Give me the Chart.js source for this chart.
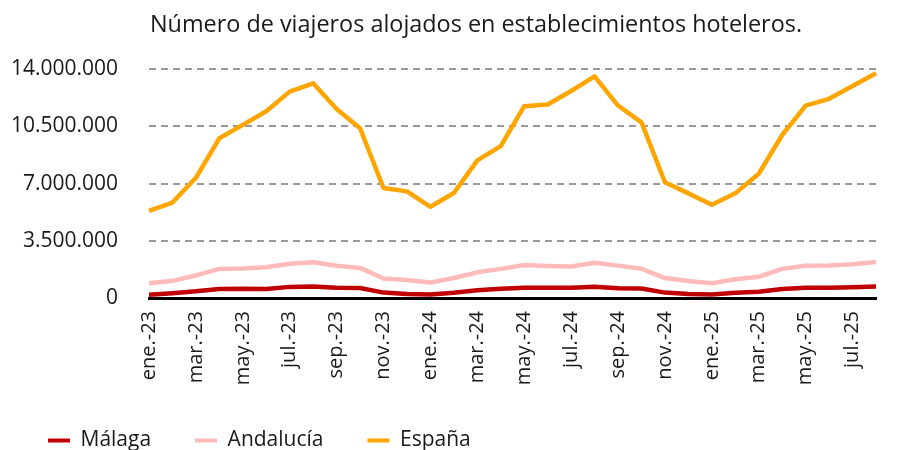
<!DOCTYPE html>
<html>
<head>
<meta charset="utf-8">
<script src="https://cdn.jsdelivr.net/npm/chart.js@4.4.1/dist/chart.umd.min.js"></script>
<style>
  body { margin: 0; background: #fff; }
</style>
</head>
<body>
<canvas id="viajerosChart" width="913" height="450"></canvas>
<script>
  // months ene-23 .. ago-25
  const meses = [
    'ene.-23', 'feb.-23', 'mar.-23', 'abr.-23', 'may.-23', 'jun.-23',
    'jul.-23', 'ago.-23', 'sep.-23', 'oct.-23', 'nov.-23', 'dic.-23',
    'ene.-24', 'feb.-24', 'mar.-24', 'abr.-24', 'may.-24', 'jun.-24',
    'jul.-24', 'ago.-24', 'sep.-24', 'oct.-24', 'nov.-24', 'dic.-24',
    'ene.-25', 'feb.-25', 'mar.-25', 'abr.-25', 'may.-25', 'jun.-25',
    'jul.-25', 'ago.-25'
  ];

  const malaga = [
    200000, 290000, 410000, 550000, 570000, 550000, 680000, 700000, 620000, 610000, 330000, 250000,
    210000, 320000, 470000, 570000, 630000, 620000, 620000, 690000, 600000, 580000, 330000, 240000,
    220000, 320000, 380000, 550000, 630000, 620000, 660000, 700000
  ];

  const andalucia = [
    900000, 1050000, 1380000, 1780000, 1810000, 1880000, 2090000, 2190000, 1970000, 1840000, 1190000, 1100000,
    950000, 1220000, 1570000, 1780000, 2020000, 1960000, 1930000, 2160000, 1980000, 1790000, 1220000, 1040000,
    900000, 1150000, 1300000, 1780000, 1970000, 1990000, 2060000, 2200000
  ];

  const espana = [
    5330000, 5840000, 7350000, 9770000, 10590000, 11420000, 12620000, 13130000, 11560000, 10380000, 6730000, 6520000,
    5580000, 6420000, 8420000, 9290000, 11730000, 11830000, 12660000, 13550000, 11770000, 10740000, 7080000, 6400000,
    5700000, 6400000, 7600000, 9970000, 11770000, 12180000, 12970000, 13750000
  ];

  const yTicksMax = 14000000;
  const yTicksStep = 3500000;

  const FONT = '"Open Sans"';

  function puntos(n) {
    return String(n).replace(/\B(?=(\d{3})+(?!\d))/g, '.');
  }

  // move title / legend where the original has them
  const nudge = {
    id: 'nudge',
    afterLayout(chart) {
      chart.titleBlock.left += 52;
      chart.legend.top -= 9;
    }
  };

  const datos = {
    labels: meses,
    datasets: [
      { label: 'Málaga', data: malaga, borderColor: '#C00000', backgroundColor: '#C00000' },
      { label: 'Andalucía', data: andalucia, borderColor: '#FFBABA', backgroundColor: '#FFBABA' },
      { label: 'España', data: espana, borderColor: '#FFA500', backgroundColor: '#FFA500' }
    ].map(d => Object.assign(d, {
      borderWidth: 4.5,
      pointRadius: 0,
      tension: 0,
      borderJoinStyle: 'round'
    }))
  };

  const config = {
    type: 'line',
    data: datos,
    options: {
      responsive: false,
      animation: false,
      layout: { padding: { left: 4, right: 17, top: 0, bottom: -20 } },
      plugins: {
        title: {
          display: true,
          text: 'Número de viajeros alojados en establecimientos hoteleros.',
          color: '#1a1a1a',
          font: { family: FONT, size: 23.4, weight: 'normal' },
          padding: { top: 11, bottom: 30 }
        },
        legend: {
          position: 'bottom',
          align: 'start',
          labels: {
            color: '#1a1a1a',
            font: { family: FONT, size: 21 },
            boxWidth: 22,
            boxHeight: 4,
            padding: 44,
            generateLabels(chart) {
              const items = Chart.defaults.plugins.legend.labels.generateLabels(chart);
              items.forEach(it => { it.lineWidth = 0; });
              return items;
            }
          }
        },
        tooltip: { enabled: false }
      },
      scales: {
        x: {
          grid: { display: false, drawTicks: false },
          border: { display: true, color: '#000', width: 3 },
          ticks: {
            autoSkip: false,
            minRotation: 90,
            maxRotation: 90,
            padding: 13,
            color: '#1a1a1a',
            font: { family: FONT, size: 20 },
            callback: function (val, i) {
              return i % 2 === 0 ? this.getLabelForValue(val) : '';
            }
          },
          afterFit(scale) { scale.height = 97; }
        },
        y: {
          min: 0,
          max: yTicksMax,
          grid: {
            drawTicks: false,
            lineWidth: 2,
            color: ctx => (ctx.tick && ctx.tick.value === 0) ? 'rgba(0,0,0,0)' : '#999999'
          },
          border: { display: false, dash: [7, 5] },
          ticks: {
            stepSize: yTicksStep,
            padding: 31,
            color: '#1a1a1a',
            font: { family: FONT, size: 21 },
            callback: v => puntos(v)
          },
          afterFit(scale) { scale.width = 145; }
        }
      }
    },
    plugins: [nudge]
  };

  const viajerosChart = new Chart(
    document.getElementById('viajerosChart'),
    config
  );
</script>
</body>
</html>
